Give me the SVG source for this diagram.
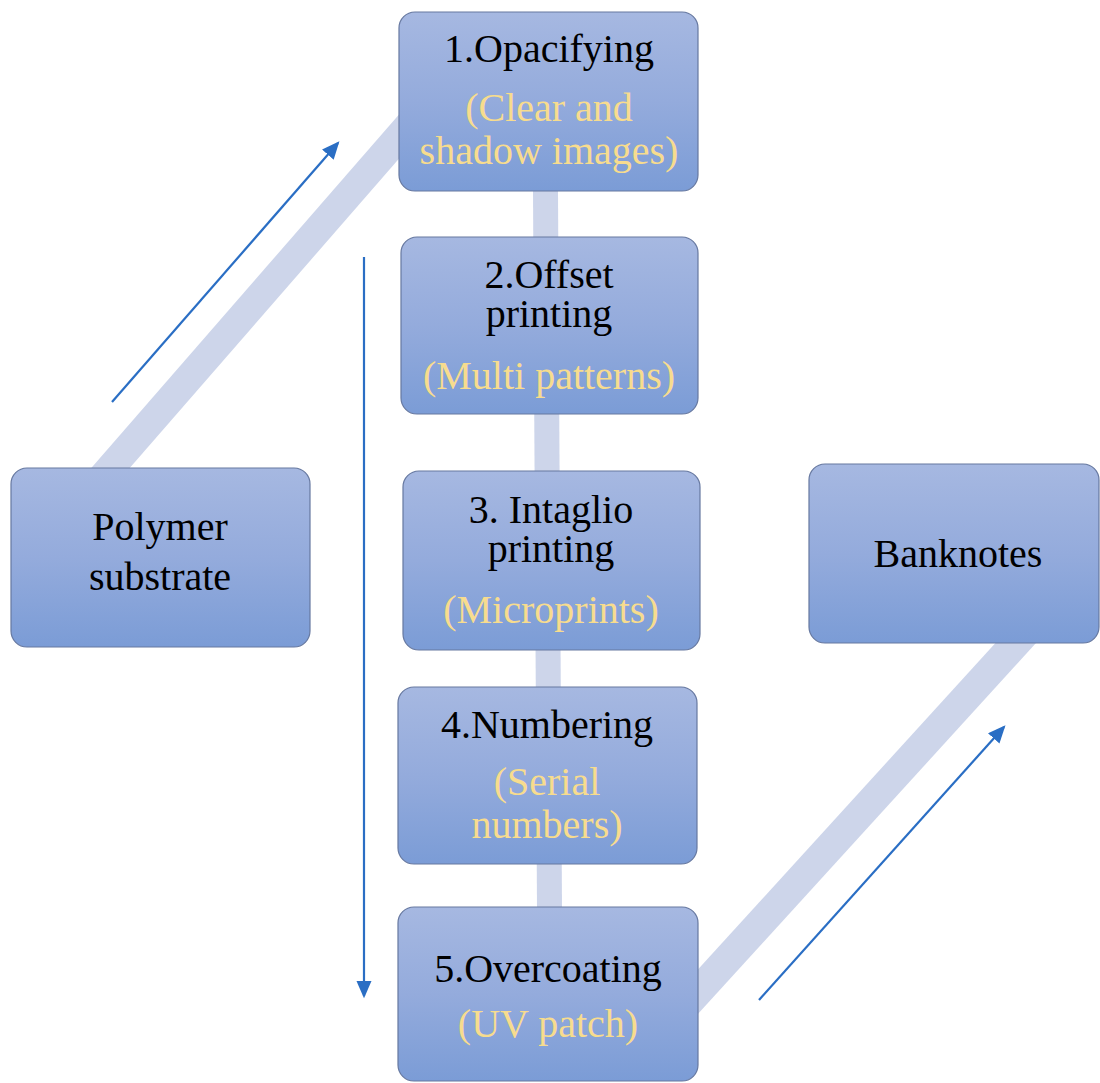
<svg xmlns="http://www.w3.org/2000/svg" width="1100" height="1083" viewBox="0 0 1100 1083">
<style>
text{font-family:"Liberation Serif",Tinos,"Times New Roman",Times,"DejaVu Serif",serif}
.node rect{fill:url(#g);stroke:#6678a0;stroke-width:1.2}
.t{font-size:40px;fill:#000;text-anchor:middle}
.s{fill:#f7dc8e}
.band{stroke:#cdd5ea;fill:none}
.arr{stroke:#2a6ec4;stroke-width:2.2;fill:none;marker-end:url(#ah)}
</style>
<defs>
<linearGradient id="g" x1="0" y1="0" x2="0" y2="1">
<stop offset="0" stop-color="#a6b8e1"/>
<stop offset="0.5" stop-color="#94abdc"/>
<stop offset="1" stop-color="#7b9cd6"/>
</linearGradient>
<marker id="ah" markerWidth="10" markerHeight="10" refX="7" refY="3.5" orient="auto" markerUnits="strokeWidth">
<path d="M0,0 L8,3.5 L0,7 Z" fill="#2a6ec4"/>
</marker>
</defs>
<rect width="1100" height="1083" fill="#fff"/>
<g id="connectors">
<line class="band" x1="60" y1="526" x2="450" y2="78" stroke-width="29"/>
<line class="band" x1="545" y1="100" x2="550" y2="1000" stroke-width="25"/>
<line class="band" x1="663" y1="1030" x2="1055" y2="600" stroke-width="30"/>
<line class="arr" x1="112" y1="402" x2="338" y2="143"/>
<line class="arr" x1="364" y1="257" x2="364" y2="996"/>
<line class="arr" x1="759" y1="1000" x2="1004" y2="727"/>
</g>
<g id="n1" class="node"><rect x="399" y="12" width="299" height="179" rx="16"/>
<text class="t" font-family="Liberation Serif, serif" x="549" y="62">1.Opacifying</text>
<text class="t s" font-family="Liberation Serif, serif" x="549" y="121">(Clear and</text>
<text class="t s" font-family="Liberation Serif, serif" x="549" y="164">shadow images)</text></g>
<g id="n2" class="node"><rect x="401" y="237" width="297" height="177" rx="16"/>
<text class="t" font-family="Liberation Serif, serif" x="549" y="288">2.Offset</text>
<text class="t" font-family="Liberation Serif, serif" x="549" y="327">printing</text>
<text class="t s" font-family="Liberation Serif, serif" x="549" y="389">(Multi patterns)</text></g>
<g id="n3" class="node"><rect x="403" y="471" width="297" height="179" rx="16"/>
<text class="t" font-family="Liberation Serif, serif" x="551" y="523">3. Intaglio</text>
<text class="t" font-family="Liberation Serif, serif" x="551" y="562">printing</text>
<text class="t s" font-family="Liberation Serif, serif" x="551" y="623">(Microprints)</text></g>
<g id="n4" class="node"><rect x="398" y="687" width="299" height="177" rx="16"/>
<text class="t" font-family="Liberation Serif, serif" x="547" y="738">4.Numbering</text>
<text class="t s" font-family="Liberation Serif, serif" x="547" y="795">(Serial</text>
<text class="t s" font-family="Liberation Serif, serif" x="547" y="838">numbers)</text></g>
<g id="n5" class="node"><rect x="398" y="907" width="300" height="174" rx="16"/>
<text class="t" font-family="Liberation Serif, serif" x="548" y="982">5.Overcoating</text>
<text class="t s" font-family="Liberation Serif, serif" x="548" y="1037">(UV patch)</text></g>
<g id="polymer" class="node"><rect x="11" y="468" width="299" height="179" rx="16"/>
<text class="t" font-family="Liberation Serif, serif" x="160" y="540">Polymer</text>
<text class="t" font-family="Liberation Serif, serif" x="160" y="590">substrate</text></g>
<g id="banknotes" class="node"><rect x="809" y="464" width="290" height="179" rx="16"/>
<text class="t" font-family="Liberation Serif, serif" x="958" y="567">Banknotes</text></g>
</svg>
